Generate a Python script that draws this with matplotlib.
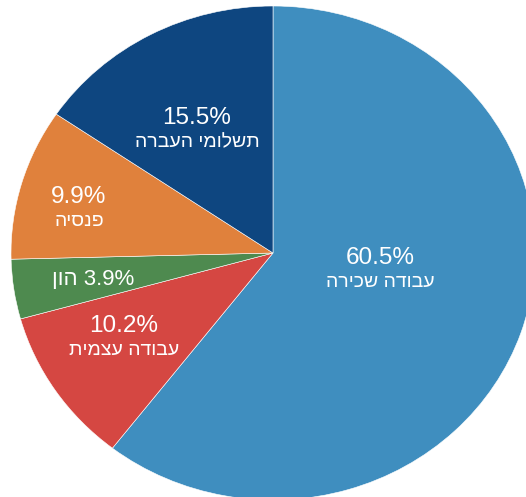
import matplotlib.pyplot as plt

# נתונים
labels = ['עבודה שכירה', 'עבודה עצמית', 'הון', 'פנסיה', 'תשלומי העברה']
shares = [60.5, 10.2, 3.9, 9.9, 15.5]
colors = ['#3f8ebf', '#d54742', '#4e8a4f', '#e0813c', '#0e4680']

# label anchors in pixels (x centre, baseline of the number), one line for small slices
label_px = [(380, 264), (124, 332), (93, 285), (79, 203), (197, 124)]
one_line = [False, False, True, False, False]

plt.rcParams['font.family'] = ['Liberation Sans', 'DejaVu Sans']

W, H = 526, 497
fig = plt.figure(figsize=(W / 100, H / 100), dpi=100)
ax = fig.add_axes([0, 0, 1, 1])

ax.pie(shares, colors=colors, startangle=90, counterclock=False, radius=1,
       wedgeprops=dict(edgecolor='white', linewidth=0.4))

# pie is a bit wider than tall and cut at the right / bottom
cx, cy, rx, ry = 273, 253, 262, 247
ax.set_aspect('auto')
ax.set_xlim(-cx / rx, (W - cx) / rx)
ax.set_ylim(-(H - cy) / ry, cy / ry)
ax.axis('off')


def vis(s):
    # matplotlib has no bidi, so Hebrew is written in visual order
    return s[::-1]


for name, v, (px, py), single in zip(labels, shares, label_px, one_line):
    x, y = px / W, 1 - py / H
    pct = f'{v:.1f}%'
    if single:
        ax.text(x, y, vis(name) + ' ' + pct, transform=ax.transAxes,
                ha='center', va='baseline', fontsize=16, color='white')
        continue
    ax.text(x, y, pct, transform=ax.transAxes, ha='center', va='baseline',
            fontsize=17.5, color='white')
    ax.text(x, y - 23 / H, vis(name), transform=ax.transAxes, ha='center',
            va='baseline', fontsize=14, color='white')

plt.savefig('out.png', dpi=100)
